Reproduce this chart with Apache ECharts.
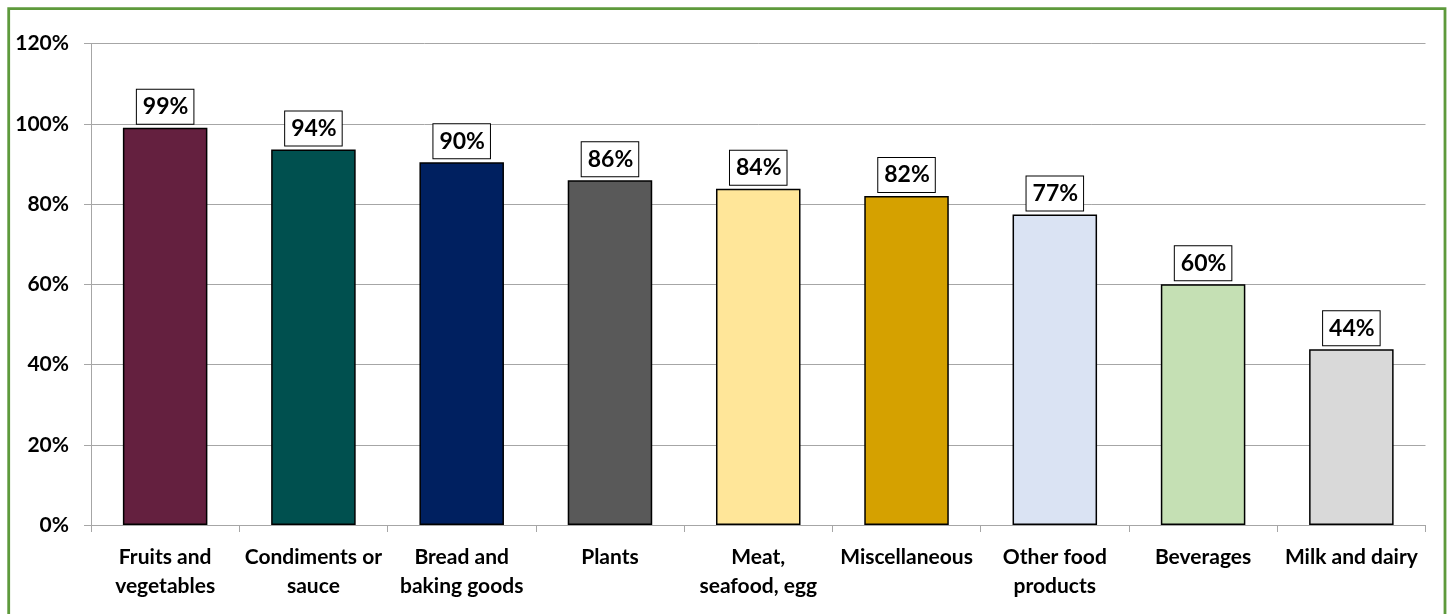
<!DOCTYPE html>
<html>
<head>
<meta charset="utf-8">
<title>Share by food category</title>
<script src="https://cdn.jsdelivr.net/npm/echarts@6/dist/echarts.min.js"></script>
<style>
  html, body { margin: 0; padding: 0; background: #ffffff; }
  #chart { width: 1448px; height: 614px; }
</style>
</head>
<body>
<div id="chart"></div>
<script>
// Food categories (line breaks as wrapped under the axis)
const categories = [
  'Fruits and\nvegetables',
  'Condiments or\nsauce',
  'Bread and\nbaking goods',
  'Plants',
  'Meat,\nseafood, egg',
  'Miscellaneous',
  'Other food\nproducts',
  'Beverages',
  'Milk and dairy'
];

// Share in percent for each category
const shares = [99.0, 93.6, 90.4, 85.9, 83.8, 82.0, 77.4, 60.0, 43.8];

// One fill per category
const barColors = [
  '#64203f', '#00504f', '#002060', '#595959', '#ffe699',
  '#d5a100', '#dae3f3', '#c5e0b4', '#d9d9d9'
];

// Value axis ticks
const yMin = 0;
const yMax = 120;
const yStep = 20;

const FONT = 'Lato, "Open Sans", sans-serif';

const chart = echarts.init(document.getElementById('chart'), null, { renderer: 'canvas' });

chart.setOption({
  animation: false,
  backgroundColor: '#ffffff',
  grid: { left: 91, right: 22.5, top: 43.5, bottom: 89 },
  graphic: [{
    type: 'rect',
    silent: true,
    z: -1,
    shape: { x: 8.7, y: 8.7, width: 1436.3, height: 700 },
    style: { fill: 'none', stroke: '#5e9a3c', lineWidth: 2.8 }
  }],
  xAxis: {
    type: 'category',
    data: categories,
    boundaryGap: true,
    axisLine: { show: true, lineStyle: { color: '#a6a6a6', width: 1 } },
    axisTick: { show: true, length: 7, alignWithLabel: false, lineStyle: { color: '#a6a6a6' } },
    axisLabel: {
      interval: 0,
      margin: 18,
      color: '#000000',
      fontFamily: FONT,
      fontWeight: 'bold',
      fontSize: 21,
      lineHeight: 29
    },
    splitLine: { show: false }
  },
  yAxis: {
    type: 'value',
    min: yMin,
    max: yMax,
    interval: yStep,
    axisLine: { show: true, lineStyle: { color: '#a6a6a6', width: 1 } },
    axisTick: { show: true, length: 7, inside: false, lineStyle: { color: '#a6a6a6' } },
    axisLabel: {
      margin: 22,
      color: '#000000',
      fontFamily: FONT,
      fontWeight: 'bold',
      fontSize: 21,
      formatter: v => v + '%'
    },
    splitLine: { show: true, lineStyle: { color: '#a6a6a6', width: 1 } }
  },
  series: [{
    type: 'bar',
    data: shares.map((v, i) => ({
      value: v,
      itemStyle: { color: barColors[i] }
    })),
    barCategoryGap: '43%',
    itemStyle: { borderColor: '#000000', borderWidth: 1.5 },
    label: {
      show: true,
      position: 'top',
      distance: 4,
      formatter: p => Math.round(p.value) + '%',
      color: '#000000',
      fontFamily: FONT,
      fontWeight: 'bold',
      fontSize: 23,
      lineHeight: 24,
      backgroundColor: '#ffffff',
      borderColor: '#000000',
      borderWidth: 1,
      padding: [5, 5, 5, 6]
    }
  }]
});
</script>
</body>
</html>
